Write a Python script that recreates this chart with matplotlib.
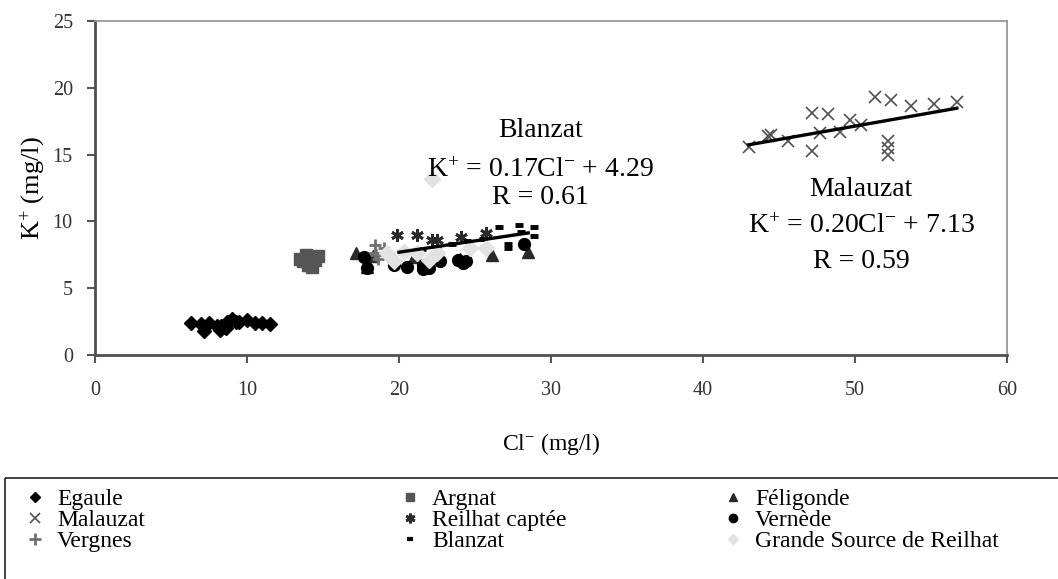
import matplotlib
matplotlib.use('Agg')
import matplotlib.pyplot as plt
from matplotlib.patches import Rectangle

plt.rcParams['font.family'] = ['Liberation Serif', 'DejaVu Serif']
plt.rcParams['mathtext.fontset'] = 'custom'
plt.rcParams['mathtext.rm'] = 'Liberation Serif'
plt.rcParams['mathtext.it'] = 'Liberation Serif:italic'
plt.rcParams['mathtext.bf'] = 'Liberation Serif:bold'

# Cl- / K+ concentrations (mg/l) per spring
egaule_cl = [6.3, 7.0, 7.2, 7.5, 8.0, 8.2, 8.3, 8.5, 8.6, 8.7, 9.0, 9.3, 9.5, 10.0, 10.5, 11.0, 11.5]
egaule_k = [2.4, 2.3, 1.8, 2.4, 2.2, 1.9, 2.2, 2.1, 2.0, 2.5, 2.7, 2.5, 2.5, 2.6, 2.4, 2.4, 2.3]

argnat_cl = [13.5, 13.7, 13.9, 14.0, 14.2, 14.3, 14.5, 14.7]
argnat_k = [7.2, 7.0, 7.5, 6.7, 7.3, 6.6, 7.1, 7.4]

feligonde_cl = [17.2, 17.9, 18.3, 21.0, 24.0, 26.1, 28.5]
feligonde_k = [7.6, 6.6, 7.4, 7.3, 7.2, 7.5, 7.7]

malauzat_cl = [43.0, 44.3, 44.5, 45.6, 47.2, 48.2, 47.2, 47.7, 49.0, 49.7, 50.4,
               51.3, 52.4, 52.2, 52.2, 52.2, 53.7, 55.2, 56.7]
malauzat_k = [15.6, 16.4, 16.5, 16.0, 18.1, 18.0, 15.3, 16.6, 16.7, 17.6, 17.2,
              19.3, 19.1, 16.0, 15.5, 15.0, 18.6, 18.8, 18.9]

reilhat_cl = [19.9, 21.2, 22.2, 22.5, 24.1, 25.7]
reilhat_k = [9.0, 9.0, 8.6, 8.6, 8.8, 9.1]

vernede_cl = [17.7, 17.9, 19.7, 20.5, 21.6, 21.6, 22.0, 22.7, 23.9, 24.2, 24.4, 28.2]
vernede_k = [7.3, 6.5, 6.7, 6.6, 6.7, 6.4, 6.5, 7.0, 7.1, 6.9, 7.0, 8.3]

vergnes_cl = [18.4, 18.4, 18.5, 18.6, 19.0]
vergnes_k = [8.2, 7.6, 7.5, 7.2, 8.0]

blanzat_cl = [21.5, 22.5, 23.5, 24.5, 25.5, 26.6, 27.2, 27.2, 27.9, 28.0, 28.9, 28.9]
blanzat_k = [7.9, 8.1, 8.3, 8.5, 8.7, 9.6, 8.3, 8.0, 9.7, 9.2, 9.6, 8.9]

grande_cl = [19.2, 19.7, 20.3, 21.2, 22.0, 22.5, 24.7, 25.7, 22.2]
grande_k = [7.6, 7.0, 7.7, 7.6, 7.1, 7.6, 8.0, 8.0, 13.2]

# linear fits K+ = a*Cl- + b
blanzat_fit = (0.17, 4.29, 0.61, (20.0, 28.5))
malauzat_fit = (0.20, 7.13, 0.59, (43.0, 56.7))

series = [
    ('Egaule', egaule_cl, egaule_k, dict(marker='D', ms=7.5, color='black')),
    ('Argnat', argnat_cl, argnat_k, dict(marker='s', ms=9, color='#555555')),
    ('Féligonde', feligonde_cl, feligonde_k, dict(marker='^', ms=8.5, color='#2a2a2a')),
    ('Malauzat', malauzat_cl, malauzat_k, dict(marker='x', ms=8.5, mew=1.2, color='#505050')),
    ('Reilhat captée', reilhat_cl, reilhat_k, dict(marker=(6, 2, 0), ms=9, mew=2, color='#2a2a2a')),
    ('Vernède', vernede_cl, vernede_k, dict(marker='o', ms=8.5, color='black')),
    ('Vergnes', vergnes_cl, vergnes_k, dict(marker='+', ms=9, mew=2, color='#707070')),
    ('Blanzat', blanzat_cl, blanzat_k, dict(marker='_', ms=6, mew=3.5, color='black')),
    ('Grande Source de Reilhat', grande_cl, grande_k, dict(marker='D', ms=8, color='#e2e2e2')),
]

fig = plt.figure(figsize=(10.58, 5.79), dpi=100)
ax = fig.add_axes([0.0898, 0.3869, 0.8620, 0.5769])

for name, x, y, st in series:
    ax.plot(x, y, ls='none', mec=st['color'], **st, zorder=3)

for a, b, r, (x0, x1) in (blanzat_fit, malauzat_fit):
    ax.plot([x0, x1], [a * x0 + b, a * x1 + b], color='black', lw=2.4, zorder=4)

ax.set_xlim(0, 60)
ax.set_ylim(0, 25)
ax.set_xticks(range(0, 61, 10))
ax.set_yticks(range(0, 26, 5))
ax.tick_params(axis='both', labelsize=14.5, labelcolor='#333333', color='#555555', width=1.5)
ax.tick_params(axis='x', direction='out', length=6, pad=13)
ax.tick_params(axis='y', direction='out', length=6, pad=10)
for s in ('left', 'bottom'):
    ax.spines[s].set_color('#505050')
    ax.spines[s].set_linewidth(2)
for s in ('top', 'right'):
    ax.spines[s].set_color('#9a9a9a')
    ax.spines[s].set_linewidth(1.3)

ax.set_xlabel('Cl$^{-}$ (mg/l)', fontsize=17, labelpad=22)
ax.set_ylabel('K$^{+}$ (mg/l)', fontsize=19, labelpad=4)

txt = dict(ha='center', va='center', fontsize=20)
a, b, r, _ = blanzat_fit
ax.text(29.3, 16.8, 'Blanzat', **txt)
ax.text(29.3, 13.8, 'K$^{+}$ = %.2fCl$^{-}$ + %.2f' % (a, b), **txt)
ax.text(29.3, 11.8, 'R = %.2f' % r, **txt)
a, b, r, _ = malauzat_fit
ax.text(50.4, 12.4, 'Malauzat', **txt)
ax.text(50.4, 9.6, 'K$^{+}$ = %.2fCl$^{-}$ + %.2f' % (a, b), **txt)
ax.text(50.4, 7.0, 'R = %.2f' % r, **txt)

# legend panel, laid out in pixel coordinates
lg = fig.add_axes([0, 0, 1, 1], zorder=5)
lg.set_xlim(0, 1058)
lg.set_ylim(579, 0)
lg.axis('off')
lg.patch.set_alpha(0)
lg.add_patch(Rectangle((5, 478), 1100, 200, fill=False, ec='#333333', lw=1.3))
col_x = [35, 410, 733]
row_y = [497, 518, 539]
leg_ms = {'Egaule': 5.5, 'Argnat': 5.5, 'Féligonde': 6, 'Malauzat': 7, 'Reilhat captée': 7,
          'Vernède': 6, 'Vergnes': 8, 'Blanzat': 5, 'Grande Source de Reilhat': 5.5}
for i, (name, x, y, st) in enumerate(series):
    cx = col_x[i % 3]
    cy = row_y[i // 3]
    s = dict(st)
    s['ms'] = leg_ms[name]
    if name == 'Blanzat':
        s['mew'] = 3
    lg.plot([cx], [cy], ls='none', mec=s['color'], **s)
    lg.text(cx + 22, cy, name, fontsize=17, va='center_baseline', ha='left')

fig.savefig('out.png', dpi=100)
